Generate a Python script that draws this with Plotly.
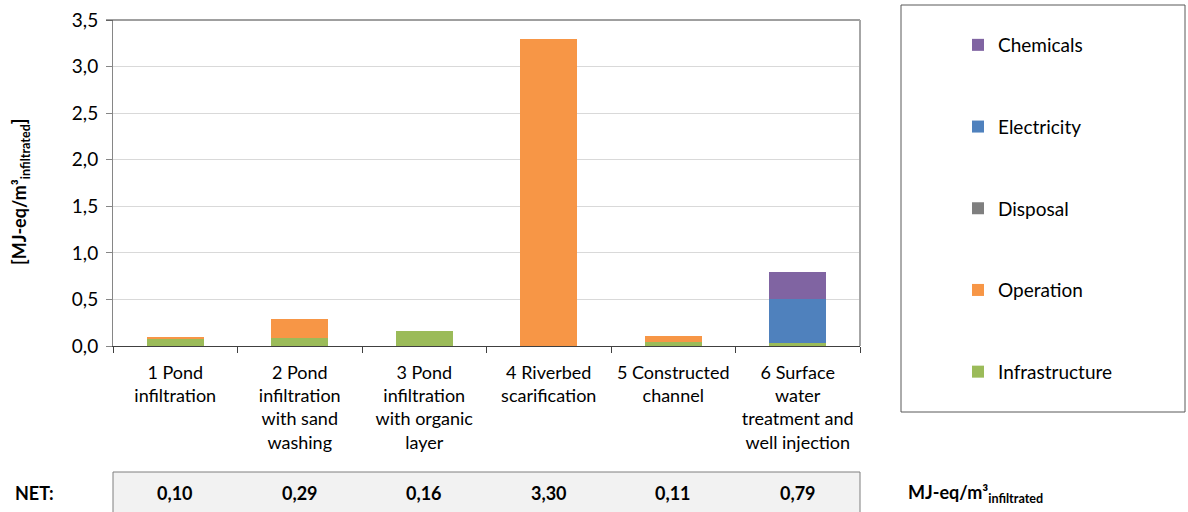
import plotly.graph_objects as go

categories = ["1 Pond<br>infiltration",
              "2 Pond<br>infiltration<br>with sand<br>washing",
              "3 Pond<br>infiltration<br>with organic<br>layer",
              "4 Riverbed<br>scarification",
              "5 Constructed<br>channel",
              "6 Surface<br>water<br>treatment and<br>well injection"]
infrastructure = [0.085, 0.09, 0.16, 0.0, 0.04, 0.03]
operation = [0.015, 0.20, 0.0, 3.30, 0.07, 0.0]
disposal = [0.0, 0.0, 0.0, 0.0, 0.0, 0.0]
electricity = [0.0, 0.0, 0.0, 0.0, 0.0, 0.47]
chemicals = [0.0, 0.0, 0.0, 0.0, 0.0, 0.29]
net_labels = ["0,10", "0,29", "0,16", "3,30", "0,11", "0,79"]
y_ticks = [0, 0.5, 1.0, 1.5, 2.0, 2.5, 3.0, 3.5]

series = [("Infrastructure", infrastructure, "#9bbb59"),
          ("Operation", operation, "#f79646"),
          ("Disposal", disposal, "#7f7f7f"),
          ("Electricity", electricity, "#4f81bd"),
          ("Chemicals", chemicals, "#8064a2")]

FONT = "Lato, 'Open Sans', sans-serif"

# body margin removed via post_script; target plot area in page px: x 113..860, y 20..346
OFF = 0
W, H = 1188, 512
PL, PR, PT, PB = 113, 860, 20, 346
PW, PH = PR - PL, PB - PT


def px(x):
    return (x - PL) / PW


def py(y):
    return (PB - y) / PH


fig = go.Figure()
n = len(series)
for i, (name, vals, col) in enumerate(series):
    fig.add_trace(go.Bar(x=categories, y=vals, name=name, marker_color=col,
                         marker_line_width=0, legendgroup=name, legendrank=n - i))

fig.update_layout(
    width=W, height=H,
    barmode="stack", bargap=0.54,
    separators=", ",
    plot_bgcolor="white", paper_bgcolor="white",
    margin=dict(l=PL - OFF, r=OFF + W - PR, t=PT - OFF, b=OFF + H - PB, autoexpand=False),
    font=dict(family=FONT, size=18, color="#000000"),
    showlegend=True,
    legend=dict(traceorder="grouped", tracegroupgap=54,
                x=px(958), xanchor="left", y=py(26), yanchor="top",
                maxheight=460,
                bgcolor="rgba(0,0,0,0)", borderwidth=0,
                font=dict(family=FONT, size=19)),
    xaxis=dict(showline=True, linecolor="#404040", linewidth=1,
               ticks="outside", tickson="boundaries", ticklen=6, tickcolor="#404040",
               tickfont=dict(size=18), tickangle=0, showgrid=False,
               ticklabelstandoff=10, automargin=False),
    yaxis=dict(range=[0, 3.5], tickvals=y_ticks, tickformat=".1f",
               showline=True, linecolor="#868686", linewidth=1,
               ticks="outside", ticklen=6, tickcolor="#868686",
               gridcolor="#d9d9d9", gridwidth=1, zeroline=False,
               tickfont=dict(size=19), ticklabelstandoff=4,
               ticklabeloverflow="allow", automargin=False),
)

shapes = []
# plot top and right border
shapes.append(dict(type="line", xref="paper", yref="paper", x0=px(106), x1=1, y0=1, y1=1,
                   line=dict(color="#404040", width=1)))
shapes.append(dict(type="line", xref="paper", yref="paper", x0=1, x1=1, y0=0, y1=1,
                   line=dict(color="#a6a6a6", width=2)))
# legend box
shapes.append(dict(type="rect", xref="paper", yref="paper",
                   x0=px(901), x1=px(1185), y0=py(412), y1=py(5),
                   line=dict(color="#595959", width=1), fillcolor="rgba(0,0,0,0)"))
# NET table box
shapes.append(dict(type="rect", xref="paper", yref="paper",
                   x0=0, x1=1, y0=py(540), y1=py(472),
                   line=dict(color="#7f7f7f", width=1), fillcolor="#f2f2f2", layer="below"))
fig.update_layout(shapes=shapes)

# y-axis title
fig.add_annotation(x=px(20), y=py(192), xref="paper", yref="paper",
                   text="<b>[MJ-eq/m³<sub>infiltrated</sub>]</b>", textangle=-90,
                   showarrow=False, font=dict(size=18), xanchor="center", yanchor="middle")

ynet = py(493)
for cat, lab in zip(categories, net_labels):
    fig.add_annotation(x=cat, y=ynet, xref="x", yref="paper", text="<b>%s</b>" % lab,
                       showarrow=False, font=dict(size=18), yanchor="middle")
fig.add_annotation(x=px(34), y=ynet, xref="paper", yref="paper", text="<b>NET:</b>",
                   showarrow=False, xanchor="center", font=dict(size=18), yanchor="middle")
fig.add_annotation(x=px(906), y=ynet, xref="paper", yref="paper",
                   text="<b>MJ-eq/m³<sub>infiltrated</sub></b>",
                   showarrow=False, xanchor="left", font=dict(size=18), yanchor="middle")

fig.write_html("out.html", config={"displayModeBar": False},
               post_script="document.body.style.margin='0';document.body.style.overflow='hidden';")
